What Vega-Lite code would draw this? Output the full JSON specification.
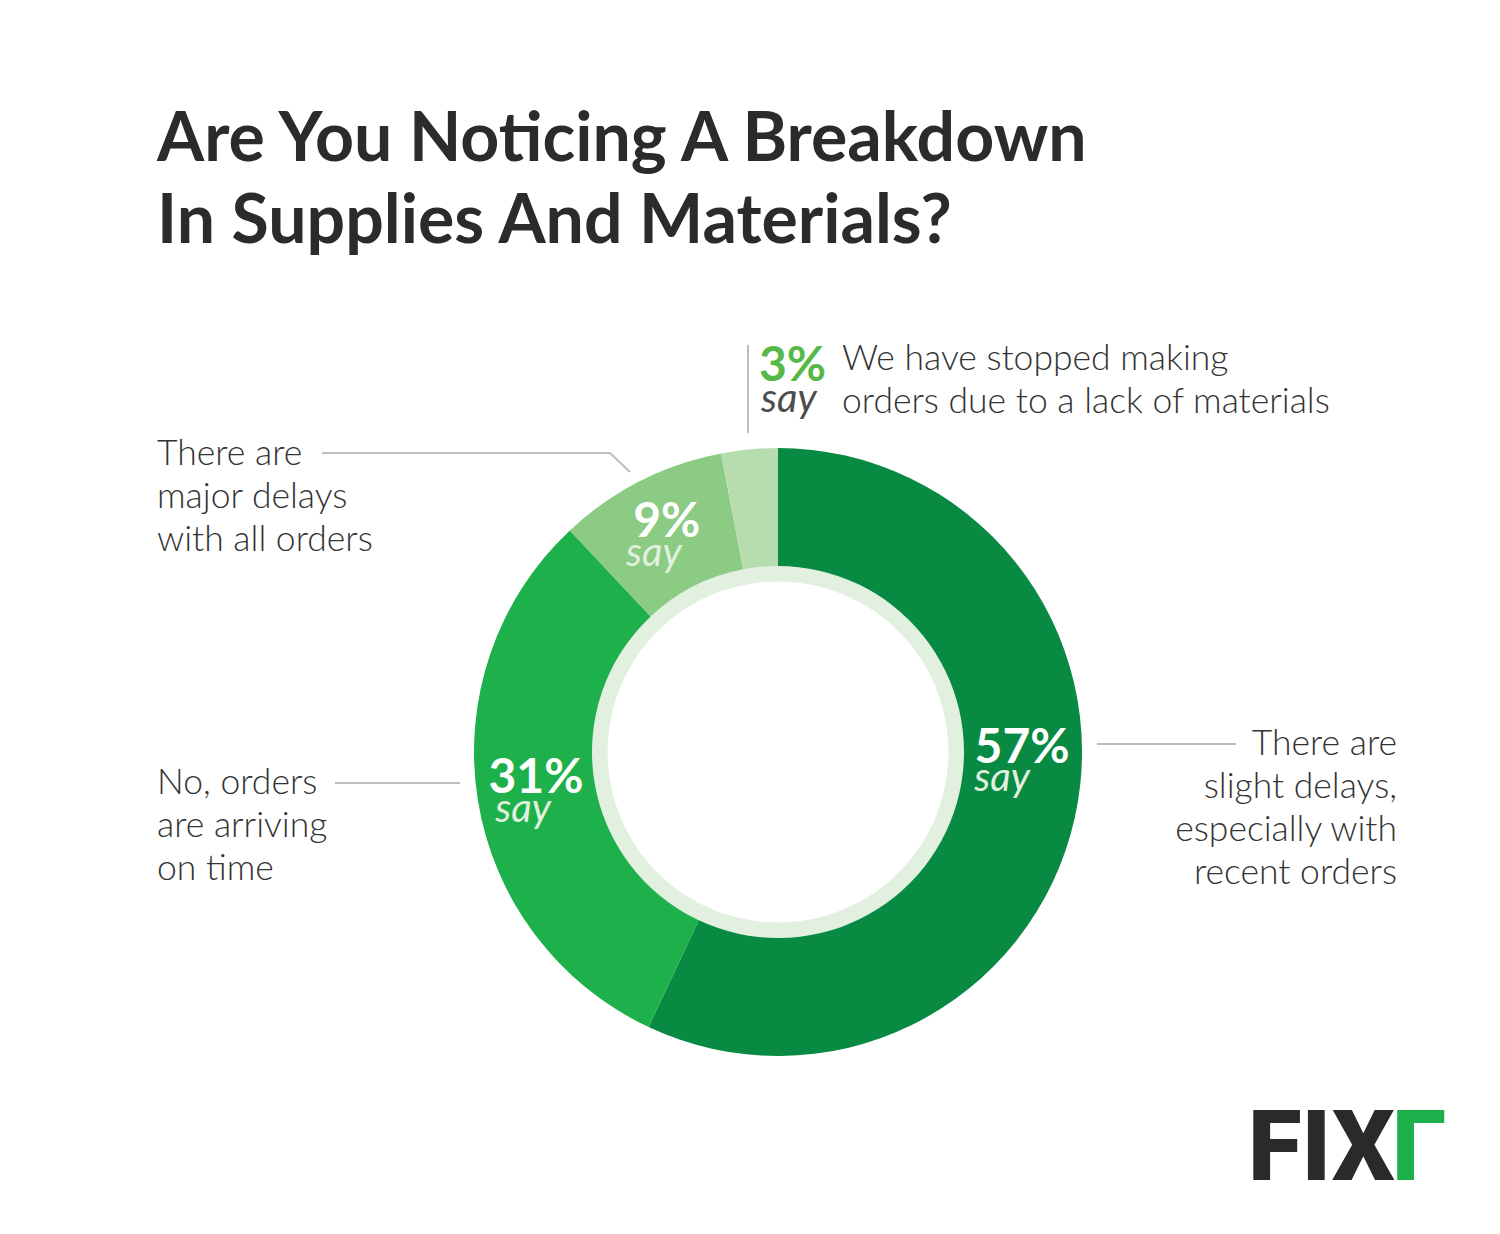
{
  "$schema": "https://vega.github.io/schema/vega-lite/v6.json",
  "width": 1444,
  "height": 964,
  "autosize": {"type": "none"},
  "padding": {"left": 56, "top": 270, "right": 0, "bottom": 0},
  "background": "white",
  "config": {"view": {"stroke": null}, "font": "Lato"},
  "title": {
    "text": ["Are You Noticing A Breakdown", "In Supplies And Materials?"],
    "anchor": "start",
    "frame": "group",
    "font": "Lato",
    "fontSize": 68,
    "fontWeight": 700,
    "color": "#2b2b2b",
    "lineHeight": 82,
    "dx": 101,
    "dy": -13,
    "offset": 0
  },
  "data": {
    "values": [
      {"answer": "There are slight delays, especially with recent orders", "pct": 57, "label": "57%", "rank": 1},
      {"answer": "No, orders are arriving on time", "pct": 31, "label": "31%", "rank": 2},
      {"answer": "There are major delays with all orders", "pct": 9, "label": "9%", "rank": 3},
      {"answer": "We have stopped making orders due to a lack of materials", "pct": 3, "label": "3%", "rank": 4}
    ]
  },
  "layer": [
    {
      "mark": {"type": "arc", "innerRadius": 171, "outerRadius": 187, "color": "#e1f0df", "stroke": "#e1f0df", "strokeWidth": 1},
      "encoding": {
        "theta": {"field": "pct", "type": "quantitative", "stack": true},
        "order": {"field": "rank", "type": "quantitative"}
      }
    },
    {
      "mark": {"type": "arc", "innerRadius": 186, "outerRadius": 304},
      "encoding": {
        "theta": {"field": "pct", "type": "quantitative", "stack": true},
        "order": {"field": "rank", "type": "quantitative"},
        "color": {
          "field": "answer",
          "type": "nominal",
          "scale": {
            "domain": [
              "There are slight delays, especially with recent orders",
              "No, orders are arriving on time",
              "There are major delays with all orders",
              "We have stopped making orders due to a lack of materials"
            ],
            "range": ["#088a43", "#1eb14b", "#8bcb83", "#b7dcae"]
          },
          "legend": null
        }
      }
    },
    {
      "mark": {"type": "text", "align": "center", "baseline": "alphabetic", "font": "Lato", "fontSize": 48, "fontWeight": 700, "color": "white", "dy": 3, "dx": 0},
      "encoding": {
        "theta": {"field": "pct", "type": "quantitative", "stack": true},
        "order": {"field": "rank", "type": "quantitative"},
        "radius": {"value": 245},
        "text": {"condition": {"test": "datum.rank == 2 || datum.rank == 3", "field": "label"}, "value": ""}
      }
    },
    {
      "mark": {"type": "text", "align": "center", "baseline": "alphabetic", "font": "Lato", "fontSize": 40, "fontStyle": "italic", "color": "#e1f0df", "dy": 32, "dx": -13},
      "encoding": {
        "theta": {"field": "pct", "type": "quantitative", "stack": true},
        "order": {"field": "rank", "type": "quantitative"},
        "radius": {"value": 245},
        "text": {"condition": {"test": "datum.rank == 2 || datum.rank == 3", "value": "say"}, "value": ""}
      }
    },
    {
      "mark": {"type": "text", "align": "center", "baseline": "alphabetic", "font": "Lato", "fontSize": 48, "fontWeight": 700, "color": "white", "dy": -42, "dx": 5},
      "encoding": {
        "theta": {"field": "pct", "type": "quantitative", "stack": true},
        "order": {"field": "rank", "type": "quantitative"},
        "radius": {"value": 245},
        "text": {"condition": {"test": "datum.rank == 1", "field": "label"}, "value": ""}
      }
    },
    {
      "mark": {"type": "text", "align": "center", "baseline": "alphabetic", "font": "Lato", "fontSize": 40, "fontStyle": "italic", "color": "#e1f0df", "dy": -14, "dx": -15},
      "encoding": {
        "theta": {"field": "pct", "type": "quantitative", "stack": true},
        "order": {"field": "rank", "type": "quantitative"},
        "radius": {"value": 245},
        "text": {"condition": {"test": "datum.rank == 1", "value": "say"}, "value": ""}
      }
    },
    {
      "data": {"values": [{}]},
      "layer": [
        {"mark": {"type": "rule", "color": "#bdbdbd", "strokeWidth": 2}, "encoding": {"x": {"value": {"expr": "width/2+319"}}, "x2": {"value": {"expr": "width/2+458"}}, "y": {"value": {"expr": "height/2-8"}}, "y2": {"value": {"expr": "height/2-8"}}}},
        {"mark": {"type": "rule", "color": "#bdbdbd", "strokeWidth": 2}, "encoding": {"x": {"value": {"expr": "width/2-443"}}, "x2": {"value": {"expr": "width/2-318"}}, "y": {"value": {"expr": "height/2+31"}}, "y2": {"value": {"expr": "height/2+31"}}}},
        {"mark": {"type": "rule", "color": "#bdbdbd", "strokeWidth": 2}, "encoding": {"x": {"value": {"expr": "width/2-456"}}, "x2": {"value": {"expr": "width/2-168"}}, "y": {"value": {"expr": "height/2-299"}}, "y2": {"value": {"expr": "height/2-299"}}}},
        {"mark": {"type": "rule", "color": "#bdbdbd", "strokeWidth": 2}, "encoding": {"x": {"value": {"expr": "width/2-168"}}, "x2": {"value": {"expr": "width/2-148"}}, "y": {"value": {"expr": "height/2-299"}}, "y2": {"value": {"expr": "height/2-280"}}}},
        {"mark": {"type": "rule", "color": "#bdbdbd", "strokeWidth": 2}, "encoding": {"x": {"value": {"expr": "width/2-30"}}, "x2": {"value": {"expr": "width/2-30"}}, "y": {"value": {"expr": "height/2-407"}}, "y2": {"value": {"expr": "height/2-319"}}}},
        {"mark": {"type": "text", "text": ["There are", "slight delays,", "especially with", "recent orders"], "align": "right", "baseline": "alphabetic", "font": "Lato", "fontSize": 35.5, "fontWeight": 300, "color": "#333333", "lineHeight": 43, "x": {"expr": "width/2+619"}, "y": {"expr": "height/2+3"}}, "encoding": {}},
        {"mark": {"type": "text", "text": ["No, orders", "are arriving", "on time"], "align": "left", "baseline": "alphabetic", "font": "Lato", "fontSize": 35.5, "fontWeight": 300, "color": "#333333", "lineHeight": 43, "x": {"expr": "width/2-621"}, "y": {"expr": "height/2+42"}}, "encoding": {}},
        {"mark": {"type": "text", "text": ["There are", "major delays", "with all orders"], "align": "left", "baseline": "alphabetic", "font": "Lato", "fontSize": 35.5, "fontWeight": 300, "color": "#333333", "lineHeight": 43, "x": {"expr": "width/2-621"}, "y": {"expr": "height/2-287"}}, "encoding": {}},
        {"mark": {"type": "text", "text": ["We have stopped making", "orders due to a lack of materials"], "align": "left", "baseline": "alphabetic", "font": "Lato", "fontSize": 35.5, "fontWeight": 300, "color": "#333333", "lineHeight": 43, "x": {"expr": "width/2+64"}, "y": {"expr": "height/2-382"}}, "encoding": {}},
        {"mark": {"type": "text", "text": "3%", "align": "left", "baseline": "alphabetic", "font": "Lato", "fontSize": 48, "fontWeight": 700, "color": "#56b947", "x": {"expr": "width/2-19"}, "y": {"expr": "height/2-371"}}, "encoding": {}},
        {"mark": {"type": "text", "text": "say", "align": "left", "baseline": "alphabetic", "font": "Lato", "fontSize": 40, "fontStyle": "italic", "color": "#4d4d4d", "x": {"expr": "width/2-17"}, "y": {"expr": "height/2-340"}}, "encoding": {}},
        {"mark": {"type": "text", "text": "FIX", "align": "left", "baseline": "alphabetic", "font": "Roboto", "fontSize": 98, "fontWeight": 900, "color": "#2a2a2a", "x": {"expr": "width/2+470"}, "y": {"expr": "height/2+428"}}, "encoding": {}},
        {"mark": {"type": "text", "text": "Γ", "align": "left", "baseline": "alphabetic", "font": "Roboto", "fontSize": 98, "fontWeight": 900, "color": "#1eb14b", "x": {"expr": "width/2+614"}, "y": {"expr": "height/2+428"}}, "encoding": {}}
      ]
    }
  ]
}
